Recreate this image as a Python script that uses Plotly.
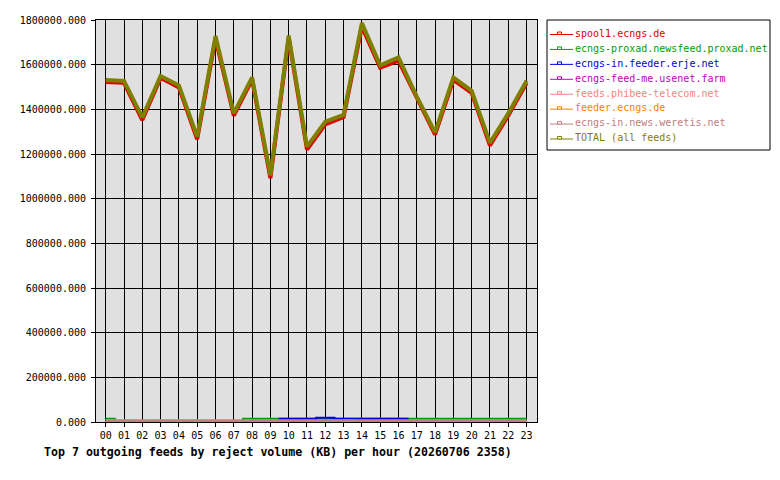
import plotly.graph_objects as go

hours = list(range(24))
hour_labels = [f"{h:02d}" for h in hours]

series_names = [
    "spool1.ecngs.de",
    "ecngs-proxad.newsfeed.proxad.net",
    "ecngs-in.feeder.erje.net",
    "ecngs-feed-me.usenet.farm",
    "feeds.phibee-telecom.net",
    "feeder.ecngs.de",
    "ecngs-in.news.weretis.net",
    "TOTAL (all feeds)",
]
series_colors = ["#E00000", "#00A000", "#0000E0", "#C000C0",
                 "#FF8080", "#FF8000", "#C08080", "#808000"]

# values in KB
spool1 = [1522000, 1519000, 1352000, 1541000, 1498000, 1266000, 1716000, 1372000,
          1533000, 1092000, 1720000, 1220000, 1333000, 1366000, 1770000, 1586000,
          1618000, 1448000, 1287000, 1532000, 1474000, 1238000, 1372000, 1518000]
proxad = [14000, 4000, 4000, 4000, 4000, 4000, 4000, 4000,
          14000, 14000, 14000, 14000, 14000, 14000, 14000, 14000,
          14000, 14000, 14000, 14000, 14000, 14000, 14000, 14000]
erje = [0, 0, 0, 0, 0, 0, 0, 0,
        0, 0, 14000, 14000, 19000, 14000, 14000, 14000,
        14000, 0, 0, 0, 0, 0, 0, 0]
usenetfarm = [1000, 1000, 1000, 1000, 1000, 1000, 1000, 1000,
              1000, 1000, 1000, 1000, 1000, 1000, 1000, 1000,
              1000, 1000, 1000, 1000, 1000, 1000, 1000, 1000]
phibee = [6000, 6000, 4000, 6000, 6000, 6000, 4000, 4000,
          4000, 4000, 4000, 4000, 4000, 6000, 4000, 4000,
          4000, 4000, 4000, 4000, 4000, 4000, 4000, 4000]
feeder = [2000, 2000, 2000, 2000, 2000, 2000, 2000, 2000,
          2000, 2000, 2000, 2000, 2000, 2000, 2000, 2000,
          2000, 2000, 2000, 2000, 2000, 2000, 2000, 2000]
weretis = [5000, 5000, 5000, 5000, 5000, 5000, 5000, 5000,
           5000, 5000, 5000, 5000, 5000, 5000, 5000, 5000,
           5000, 5000, 5000, 5000, 5000, 5000, 5000, 5000]
total = [1531000, 1527000, 1364000, 1549000, 1507000, 1278000, 1728000, 1382000,
         1543000, 1104000, 1730000, 1233000, 1345000, 1375000, 1786000, 1597000,
         1633000, 1457000, 1297000, 1543000, 1483000, 1250000, 1382000, 1528000]

y_ticks = [0, 200000, 400000, 600000, 800000, 1000000, 1200000, 1400000, 1600000, 1800000]

title_text = "Top 7 outgoing feeds by reject volume (KB) per hour (20260706 2358)"

# plot area in pixels
L, R, T, B = 96, 537, 20, 422
W, H = 780, 480


def px(x):
    return (x - L) / (R - L)


def py(y):
    return (B - y) / (B - T)


fig = go.Figure()

small = [(usenetfarm, 3), (feeder, 5), (proxad, 1), (erje, 2), (phibee, 4), (weretis, 6)]

fig.add_trace(go.Scatter(x=hours, y=spool1, mode="lines", name=series_names[0],
                         line=dict(color=series_colors[0], width=4), showlegend=False))
for vals, idx in small:
    fig.add_trace(go.Scatter(x=hours, y=vals, mode="lines", name=series_names[idx],
                             line=dict(color=series_colors[idx], width=3 if idx in (4, 6) else 2,
                                       shape="hvh"),
                             showlegend=False))
fig.add_trace(go.Scatter(x=hours, y=total, mode="lines", name=series_names[7],
                         line=dict(color=series_colors[7], width=4), showlegend=False))

mono = "DejaVu Sans Mono, Liberation Mono, monospace"

shapes = []
annotations = []
# legend box
shapes.append(dict(type="rect", xref="paper", yref="paper",
                   x0=px(547), x1=px(770), y0=py(20), y1=py(150),
                   line=dict(color="black", width=1), fillcolor="white", layer="above"))
for i, (name, col) in enumerate(zip(series_names, series_colors)):
    ly = 34.5 + 14.93 * i
    shapes.append(dict(type="line", xref="paper", yref="paper",
                       x0=px(550), x1=px(573), y0=py(ly), y1=py(ly),
                       line=dict(color=col, width=1), layer="above"))
    shapes.append(dict(type="rect", xref="paper", yref="paper",
                       x0=px(557.5), x1=px(561.5), y0=py(ly), y1=py(ly - 2.5),
                       line=dict(color=col, width=1), fillcolor="white", layer="above"))
    annotations.append(dict(text=name, xref="paper", yref="paper",
                            x=px(572.5), y=py(ly - 1.2), xanchor="left", yanchor="middle",
                            showarrow=False, font=dict(family=mono, size=10, color=col)))

annotations.append(dict(text="<b>" + title_text + "</b>", xref="paper", yref="paper",
                        x=px(41.5), y=py(452), xanchor="left", yanchor="middle",
                        showarrow=False, font=dict(family=mono, size=11.6, color="black")))

fig.update_layout(
    width=W, height=H,
    margin=dict(l=L, r=W - R, t=T, b=H - B, pad=0),
    paper_bgcolor="white",
    plot_bgcolor="#E0E0E0",
    showlegend=False,
    shapes=shapes,
    annotations=annotations,
    font=dict(family=mono, size=10, color="black"),
)
fig.update_xaxes(
    range=[-0.53, 23.57], tickmode="array", tickvals=hours, ticktext=hour_labels,
    showgrid=True, gridcolor="black", gridwidth=1,
    showline=True, linecolor="black", linewidth=1, mirror=True,
    ticks="outside", ticklen=4, tickcolor="black", tickwidth=1,
    zeroline=False, tickfont=dict(family=mono, size=10, color="black"),
)
fig.update_yaxes(
    range=[0, 1800000], tickmode="array", tickvals=y_ticks,
    ticktext=[f"{v:.3f}" for v in y_ticks],
    showgrid=True, gridcolor="black", gridwidth=1,
    showline=True, linecolor="black", linewidth=1, mirror=True,
    ticks="outside", ticklen=4, tickcolor="black", tickwidth=1,
    ticklabelstandoff=3,
    zeroline=False, tickfont=dict(family=mono, size=10, color="black"),
)

fig.write_html("out.html")
